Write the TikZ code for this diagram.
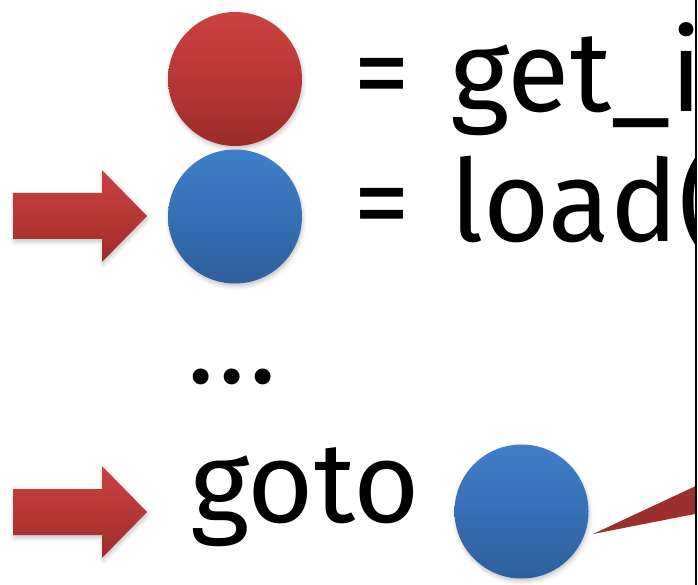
\documentclass[tikz,border=0pt]{standalone}
\usepackage{fontspec}
\setmainfont{Fira Sans}
\usetikzlibrary{shadows.blur}

\definecolor{redtop}{HTML}{CD4240}
\definecolor{redbot}{HTML}{9E2C2A}
\definecolor{bluetop}{HTML}{3F7FCB}
\definecolor{bluebot}{HTML}{2F5F9D}
\definecolor{wedgered}{HTML}{9C2E2B}

\tikzset{
  softshadow/.style={blur shadow={shadow xshift=1pt, shadow yshift=-3pt,
      shadow blur radius=4pt, shadow opacity=22}},
  ball/.style={circle, minimum size=134pt, inner sep=0pt, softshadow},
  redball/.style={ball, top color=redtop, bottom color=redbot},
  blueball/.style={ball, top color=bluetop, bottom color=bluebot},
  slidetext/.style={anchor=base west, inner sep=0pt,
      font=\fontsize{114}{130}\selectfont},
  pics/redarrow/.style={code={
      \shade[top color=redtop, bottom color=redbot, softshadow]
        (-134,-23) -- (-45,-23) -- (-45,-46) -- (0,0) -- (-45,46)
        -- (-45,23) -- (-134,23) -- cycle;
  }}
}

\begin{document}
\begin{tikzpicture}[x=1pt,y=-1pt]

            \useasboundingbox (0,0) rectangle (698,585);

            \begin{scope}
            \clip (0,0) rectangle (695,585);

            % the two balls
            \node [redball] (getball) at (235,79) {};
            \node [blueball] (loadball) at (235,216.5) {};

            \node [slidetext] (getline) at (353,112) {=\hspace{10pt} get\_i};
            \node [slidetext] (loadline) at (353,242) {=\hspace{10pt} load(};

            \node [slidetext] (dots) at (187,383) {.\kern4pt.\kern4pt.};
            \node [slidetext] (gotoline) at (190,522) {goto};

            \node [blueball] (gotoball) at (521.5,511.5) {};

            % callout pointer
            \coordinate (tip) at (593,534);
            \fill[wedgered] (tip) -- (700,484) -- (700,513) -- cycle;
            \end{scope}

            % red arrows
            \pic (loadarrow) at (147,216) {redarrow};
            \pic (gotoarrow) at (147,512) {redarrow};

            \draw[line width=2pt] (696,0) -- (696,585);

        \end{tikzpicture}
\end{document}
